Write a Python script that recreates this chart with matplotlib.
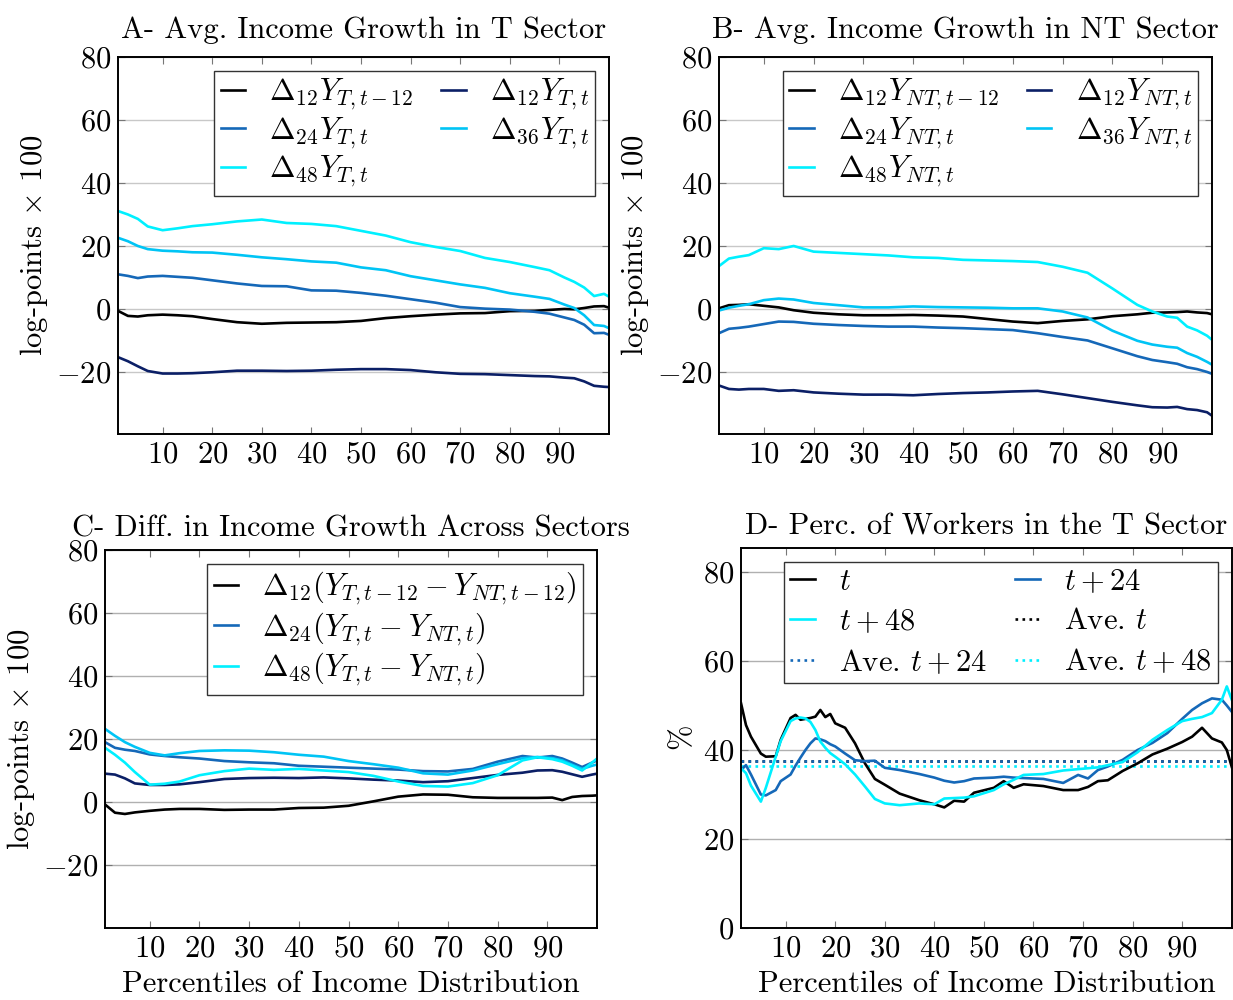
import numpy as np
import matplotlib
matplotlib.use('Agg')
import matplotlib.pyplot as plt

plt.rcParams['font.family'] = 'cmr10'
plt.rcParams['mathtext.fontset'] = 'cm'
plt.rcParams['axes.formatter.use_mathtext'] = True
plt.rcParams['axes.unicode_minus'] = True

# colours
c_blk = '#000000'
c_navy = '#0b1f66'
c_mid = '#1568b8'
c_sky = '#00c4f5'
c_cyan = '#00f0ff'

# percentiles sampled for panels A-C
pct = [1, 3, 5, 7, 10, 13, 16, 20, 25, 30, 35, 40, 45, 50, 55, 60, 65, 70,
       75, 80, 85, 88, 91, 93, 95, 97, 99, 100]

# A - tradable sector
a_12m = [-0.6, -2.2, -2.4, -2.0, -1.8, -2.0, -2.3, -3.2, -4.2, -4.7, -4.4, -4.3, -4.2, -3.8,
         -2.9, -2.3, -1.8, -1.4, -1.3, -0.7, -0.6, -0.3, 0.0, -0.1, 0.3, 0.8, 0.9, 0.4]
a_12 = [-15.3, -16.6, -18.2, -19.7, -20.5, -20.5, -20.4, -20.1, -19.6, -19.6, -19.7, -19.6, -19.3, -19.1,
        -19.1, -19.4, -20.1, -20.6, -20.7, -21.0, -21.3, -21.4, -21.8, -22.0, -23.0, -24.4, -24.7, -24.8]
a_24 = [11.0, 10.5, 9.8, 10.3, 10.5, 10.2, 9.9, 9.1, 8.1, 7.3, 7.2, 5.9, 5.8, 5.1,
        4.2, 3.1, 2.0, 0.6, 0.1, -0.2, -0.9, -1.5, -2.7, -3.5, -5.0, -7.7, -7.6, -8.2]
a_36 = [22.6, 21.5, 20.0, 19.0, 18.5, 18.3, 18.0, 17.9, 17.2, 16.4, 15.8, 15.1, 14.7, 13.2,
        12.3, 10.4, 9.1, 7.8, 6.7, 5.0, 3.9, 3.2, 1.4, 0.3, -2.0, -5.1, -5.4, -6.1]
a_48 = [31.1, 30.0, 28.6, 26.2, 25.0, 25.6, 26.3, 26.9, 27.8, 28.4, 27.3, 27.0, 26.3, 24.8,
        23.3, 21.2, 19.7, 18.4, 16.2, 14.9, 13.3, 12.3, 10.0, 8.6, 6.8, 4.1, 4.8, 3.9]

# B - non-tradable sector
b_12m = [0.2, 1.2, 1.3, 1.5, 1.0, 0.5, -0.4, -1.2, -1.7, -2.0, -2.0, -1.9, -2.1, -2.4,
         -3.2, -4.0, -4.5, -3.8, -3.3, -2.3, -1.7, -1.2, -1.1, -1.0, -0.8, -1.1, -1.3, -1.7]
b_12 = [-24.3, -25.4, -25.6, -25.4, -25.4, -26.0, -25.8, -26.5, -26.9, -27.2, -27.2, -27.4, -27.0, -26.7,
        -26.5, -26.2, -26.0, -27.1, -28.3, -29.5, -30.6, -31.2, -31.3, -31.1, -31.8, -32.1, -32.8, -33.9]
b_24 = [-7.7, -6.3, -6.0, -5.6, -4.8, -4.0, -4.1, -4.7, -5.1, -5.4, -5.6, -5.6, -5.9, -6.1,
        -6.4, -6.7, -7.7, -8.9, -10.0, -12.5, -15.0, -16.2, -16.9, -17.4, -18.5, -19.1, -20.0, -20.6]
b_36 = [-0.5, 0.4, 1.0, 1.5, 2.8, 3.3, 3.0, 1.9, 1.2, 0.5, 0.5, 0.8, 0.6, 0.5,
        0.4, 0.2, 0.2, -0.8, -2.7, -6.9, -10.1, -11.3, -12.0, -12.3, -14.0, -15.2, -16.8, -17.7]
b_48 = [13.6, 16.0, 16.6, 17.1, 19.3, 19.0, 20.0, 18.2, 17.8, 17.4, 17.0, 16.4, 16.2, 15.6,
        15.4, 15.2, 14.9, 13.4, 11.5, 6.5, 1.3, -0.8, -2.4, -2.8, -5.6, -6.8, -8.5, -9.8]

# C - differences across sectors
c_12m = [-0.8, -3.4, -3.8, -3.3, -2.8, -2.4, -2.2, -2.2, -2.5, -2.4, -2.4, -1.9, -1.8, -1.2,
         0.2, 1.7, 2.4, 2.3, 1.5, 1.3, 1.3, 1.3, 1.4, 0.6, 1.6, 1.9, 2.0, 2.1]
c_12 = [9.0, 8.7, 7.5, 5.9, 5.4, 5.4, 5.6, 6.3, 7.3, 7.6, 7.7, 7.6, 7.8, 7.5,
        7.1, 6.8, 6.3, 6.6, 7.6, 8.6, 9.3, 10.0, 10.1, 9.6, 8.8, 8.0, 8.7, 9.0]
c_24 = [19.0, 17.2, 16.6, 16.2, 15.1, 14.6, 14.2, 13.8, 13.0, 12.6, 12.3, 11.5, 11.2, 10.9,
        10.6, 10.3, 9.8, 9.7, 10.5, 12.8, 14.6, 14.1, 14.6, 13.8, 12.5, 11.1, 12.5, 13.2]
c_36 = [23.2, 21.0, 19.0, 17.5, 15.6, 14.8, 15.5, 16.2, 16.4, 16.3, 15.8, 15.0, 14.4, 13.0,
        12.0, 10.9, 9.1, 8.7, 10.0, 12.0, 13.9, 14.3, 13.9, 13.2, 11.8, 10.5, 11.5, 11.9]
c_48 = [17.2, 15.0, 12.5, 9.5, 5.5, 5.8, 6.5, 8.5, 9.8, 10.6, 10.2, 10.5, 10.0, 9.5,
        8.3, 6.5, 5.1, 4.9, 6.0, 8.5, 13.2, 14.2, 13.6, 12.8, 11.5, 10.0, 12.5, 13.8]

# D - share of workers in T sector
pct_d = [1, 2, 3, 5, 6, 8, 9, 11, 12, 13, 14, 15, 16, 17, 18, 19, 20, 22, 24, 26, 28, 30, 33,
         37, 40, 42, 44, 46, 48, 52, 54, 56, 58, 62, 66, 69, 71, 73, 75, 78, 81, 84, 87, 90,
         92, 94, 96, 98, 99, 100]
d_t = [50.5, 45.6, 43.0, 39.2, 38.5, 38.6, 42.3, 47.2, 47.9, 46.8, 47.0, 47.2, 47.5, 49.0, 47.4,
       48.1, 46.0, 45.0, 41.5, 37.0, 33.5, 32.2, 30.2, 28.7, 27.8, 27.1, 28.6, 28.4, 30.4, 31.5,
       33.0, 31.5, 32.3, 31.9, 31.0, 31.0, 31.7, 33.0, 33.2, 35.3, 37.0, 39.0, 40.3, 41.8, 43.0,
       45.0, 42.6, 41.7, 40.0, 36.2]
d_t24 = [35.5, 36.6, 34.5, 30.0, 29.8, 31.0, 33.0, 34.5, 36.5, 38.3, 40.0, 41.5, 42.6, 42.4, 42.0,
         41.3, 40.8, 39.2, 37.7, 37.5, 37.6, 36.0, 35.5, 34.6, 33.8, 33.1, 32.7, 33.0, 33.6, 33.8,
         34.0, 33.8, 33.7, 33.5, 32.6, 34.4, 33.6, 35.5, 36.3, 37.8, 40.0, 41.6, 43.8, 47.0, 49.0,
         50.5, 51.6, 51.3, 50.0, 48.6]
d_t48 = [35.9, 34.8, 32.0, 28.4, 31.5, 38.5, 42.0, 46.5, 47.1, 47.3, 47.1, 46.3, 44.5, 41.9, 40.5,
         39.3, 38.5, 36.8, 34.5, 31.8, 29.0, 28.0, 27.6, 28.0, 27.8, 29.1, 29.2, 29.3, 29.6, 31.0,
         32.3, 33.3, 34.4, 34.6, 35.4, 35.7, 35.9, 36.1, 36.6, 37.3, 39.5, 42.3, 44.5, 46.5, 47.0,
         47.4, 48.3, 51.3, 54.3, 51.3]
d_ave = [37.5, 37.5, 36.4]  # Ave. t, t+24, t+48

FS = 22
LW = 1.9


def style_axes(ax, ylim, yticks):
    ax.set_xlim(1, 100)
    ax.set_ylim(*ylim)
    ax.set_xticks(range(10, 100, 10))
    ax.set_yticks(yticks)
    ax.tick_params(direction='in', top=True, right=True, length=5, width=0.8,
                   color='#777777', labelsize=FS, pad=5)
    ax.yaxis.grid(True, color='#c8c8c8', lw=1)
    ax.set_axisbelow(True)
    for s in ax.spines.values():
        s.set_linewidth(1.4)


def make_legend(ax, handles, ncol, spacing=0.12):
    leg = ax.legend(handles=handles, loc='upper right', ncol=ncol, fontsize=FS,
                    handlelength=0.8, handletextpad=0.8, labelspacing=spacing,
                    columnspacing=0.9, borderpad=0.2, borderaxespad=0.45,
                    fancybox=False, framealpha=1)
    leg.get_frame().set_edgecolor('#333333')
    leg.get_frame().set_linewidth(1.0)


fig = plt.figure(figsize=(12.33, 10), dpi=100)
axA = fig.add_axes([0.0957, 0.566, 0.3982, 0.377])
axB = fig.add_axes([0.5831, 0.566, 0.3999, 0.377])
axC = fig.add_axes([0.0852, 0.072, 0.3990, 0.378])
axD = fig.add_axes([0.6010, 0.072, 0.3980, 0.380])

# Panel A
h12m, = axA.plot(pct, a_12m, color=c_blk, lw=LW, label=r'$\Delta_{12}Y_{T,t-12}$')
h12, = axA.plot(pct, a_12, color=c_navy, lw=LW, label=r'$\Delta_{12}Y_{T,t}$')
h24, = axA.plot(pct, a_24, color=c_mid, lw=LW, label=r'$\Delta_{24}Y_{T,t}$')
h36, = axA.plot(pct, a_36, color=c_sky, lw=LW, label=r'$\Delta_{36}Y_{T,t}$')
h48, = axA.plot(pct, a_48, color=c_cyan, lw=LW, label=r'$\Delta_{48}Y_{T,t}$')
style_axes(axA, (-39.7, 80), [-20, 0, 20, 40, 60, 80])
make_legend(axA, [h12m, h24, h48, h12, h36], 2)
axA.set_title('A- Avg. Income Growth in T Sector', fontsize=FS, pad=14)
axA.set_ylabel(r'log-points $\times$ 100', fontsize=FS)

# Panel B
h12m, = axB.plot(pct, b_12m, color=c_blk, lw=LW, label=r'$\Delta_{12}Y_{NT,t-12}$')
h12, = axB.plot(pct, b_12, color=c_navy, lw=LW, label=r'$\Delta_{12}Y_{NT,t}$')
h24, = axB.plot(pct, b_24, color=c_mid, lw=LW, label=r'$\Delta_{24}Y_{NT,t}$')
h36, = axB.plot(pct, b_36, color=c_sky, lw=LW, label=r'$\Delta_{36}Y_{NT,t}$')
h48, = axB.plot(pct, b_48, color=c_cyan, lw=LW, label=r'$\Delta_{48}Y_{NT,t}$')
style_axes(axB, (-39.7, 80), [-20, 0, 20, 40, 60, 80])
make_legend(axB, [h12m, h24, h48, h12, h36], 2)
axB.set_title('B- Avg. Income Growth in NT Sector', fontsize=FS, pad=14)
axB.set_ylabel(r'log-points $\times$ 100', fontsize=FS)

# Panel C
h12m, = axC.plot(pct, c_12m, color=c_blk, lw=LW,
                 label=r'$\Delta_{12}(Y_{T,t-12}-Y_{NT,t-12})$')
axC.plot(pct, c_12, color=c_navy, lw=LW)
h24, = axC.plot(pct, c_24, color=c_mid, lw=LW, label=r'$\Delta_{24}(Y_{T,t}-Y_{NT,t})$')
axC.plot(pct, c_36, color=c_sky, lw=LW)
h48, = axC.plot(pct, c_48, color=c_cyan, lw=LW, label=r'$\Delta_{48}(Y_{T,t}-Y_{NT,t})$')
style_axes(axC, (-40, 80), [-20, 0, 20, 40, 60, 80])
axC.yaxis.grid(True, color='#b0b0b0', lw=1)
make_legend(axC, [h12m, h24, h48], 1)
axC.set_title('C- Diff. in Income Growth Across Sectors', fontsize=FS, pad=10)
axC.set_ylabel(r'log-points $\times$ 100', fontsize=FS)
axC.set_xlabel('Percentiles of Income Distribution', fontsize=FS, labelpad=6)

# Panel D
ha0 = axD.axhline(d_ave[0], color=c_blk, lw=LW, ls=':', label=r'Ave. $t$')
ha24 = axD.axhline(d_ave[1], color=c_mid, lw=LW, ls=':', label=r'Ave. $t+24$')
ha48 = axD.axhline(d_ave[2], color=c_cyan, lw=LW, ls=':', label=r'Ave. $t+48$')
ht, = axD.plot(pct_d, d_t, color=c_blk, lw=LW, label=r'$t$')
ht24, = axD.plot(pct_d, d_t24, color=c_mid, lw=LW, label=r'$t+24$')
ht48, = axD.plot(pct_d, d_t48, color=c_cyan, lw=LW, label=r'$t+48$')
style_axes(axD, (0, 85.4), [0, 20, 40, 60, 80])
axD.yaxis.grid(True, color='#b0b0b0', lw=1)
make_legend(axD, [ht, ht48, ha24, ht24, ha0, ha48], 2, spacing=0.4)
axD.set_title('D- Perc. of Workers in the T Sector', fontsize=FS, pad=10)
axD.set_ylabel(r'$\%$', fontsize=FS)
axD.set_xlabel('Percentiles of Income Distribution', fontsize=FS, labelpad=6)

fig.savefig('out.png', dpi=100)
